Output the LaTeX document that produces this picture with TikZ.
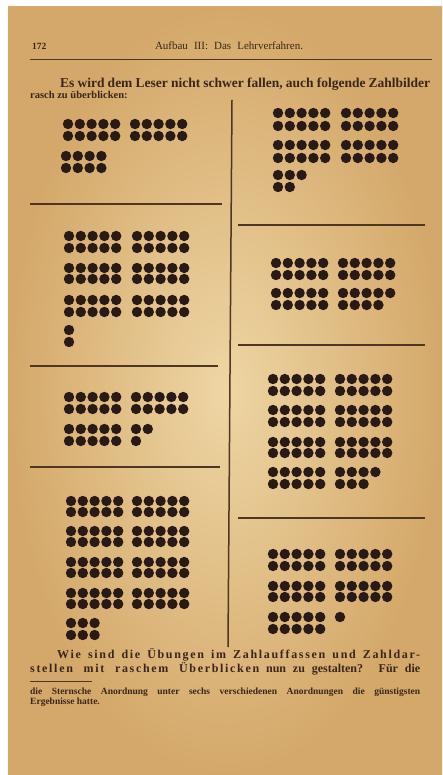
\documentclass[tikz,border=0pt]{standalone}
\usepackage{fontspec}
\setmainfont{Liberation Serif}
\setsansfont{Liberation Sans}
\definecolor{pagelight}{RGB}{238,214,164}
\definecolor{pagedark}{RGB}{212,168,106}
\definecolor{ink}{RGB}{42,26,22}
\definecolor{rulec}{RGB}{78,54,34}
\definecolor{textc}{RGB}{58,38,24}
\newcommand\dotrow[3]{\foreach \i in {1,...,#3} \fill[ink] ({#1+(\i-1)*11.8},#2) circle (5.2);}
\newcommand\dotpair[4]{\dotrow{#1}{#2}{#4}\dotrow{#1}{#3}{#4}}
\begin{document}
\begin{tikzpicture}[x=1pt,y=-1pt,
  sep/.style={draw=rulec,line width=1.5pt},
  txt/.style={anchor=base west,inner sep=0pt,text=textc,font=\bfseries\fontsize{13.5}{15}\selectfont}]
\useasboundingbox (0,0) rectangle (442,775);
\fill[white] (0,0) rectangle (442,775);
\shade[inner color=pagelight,outer color=pagedark] (8,7) rectangle (442,775);
% header
\node[txt,font=\bfseries\fontsize{9.5}{10}\selectfont] (pg) at (32,50) {172};
\node[txt,font=\fontsize{11}{12}\selectfont,anchor=base] (hd) at (229,50) {\makebox[148pt][s]{Aufbau III: Das Lehrverfahren.}};
\draw[draw=rulec,line width=1pt] (30,60) -- (432,60);
% intro text
\node[txt] (l1) at (60,88) {\makebox[370pt][s]{Es wird dem Leser nicht schwer fallen, auch folgende Zahlbilder}};
\node[txt,font=\bfseries\fontsize{10.5}{12}\selectfont] (l2) at (30,99) {rasch zu überblicken:};
% separators
\draw[sep] (232,100) -- (228,647);
\draw[sep] (30,204) -- (222,204);
\draw[sep] (238,225) -- (425,225);
\draw[sep] (30,366) -- (218,366);
\draw[sep] (238,345) -- (425,345);
\draw[sep] (30,467) -- (220,467);
\draw[sep] (238,518) -- (425,518);
% P1
\dotpair{68}{124}{136}{5}\dotpair{135}{124}{136}{5}
\dotpair{66}{156}{168}{4}
% P2
\dotpair{278}{113}{126}{5}\dotpair{346}{113}{126}{5}
\dotpair{278}{145}{158}{5}\dotpair{346}{145}{158}{5}
\dotrow{278}{175}{3}\dotrow{278}{187}{2}
% P3
\dotpair{69}{236}{248}{5}\dotpair{137}{236}{248}{5}
\dotpair{69}{268}{279}{5}\dotpair{137}{268}{279}{5}
\dotpair{69}{300}{312}{5}\dotpair{137}{300}{312}{5}
\dotpair{69}{330}{342}{1}
% P4
\dotpair{276}{263}{275}{5}\dotpair{343}{263}{275}{5}
\dotpair{276}{293}{305}{5}\dotrow{343}{293}{5}\dotrow{343}{305}{4}
% P5
\dotpair{69}{397}{409}{5}\dotpair{136}{397}{409}{5}
\dotpair{69}{429}{441}{5}\dotrow{136}{429}{2}\dotrow{136}{441}{1}
% P6
\dotpair{273}{379}{391}{5}\dotpair{340}{379}{391}{5}
\dotpair{273}{410}{422}{5}\dotpair{340}{410}{422}{5}
\dotpair{273}{442}{453}{5}\dotpair{340}{442}{453}{5}
\dotpair{273}{472}{484}{5}\dotrow{340}{472}{4}\dotrow{340}{484}{3}
% P7
\dotpair{71}{501}{512}{5}\dotpair{137}{501}{512}{5}
\dotpair{71}{531}{542}{5}\dotpair{137}{531}{542}{5}
\dotpair{71}{562}{573}{5}\dotpair{137}{562}{573}{5}
\dotpair{71}{593}{604}{5}\dotpair{137}{593}{604}{5}
\dotpair{71}{623}{635}{3}
% P8
\dotpair{273}{554}{566}{5}\dotpair{340}{554}{566}{5}
\dotpair{273}{586}{597}{5}\dotpair{340}{586}{597}{5}
\dotpair{273}{617}{629}{5}\dotrow{340}{617}{1}
% closing text
\node[txt,font=\bfseries\fontsize{12}{14}\selectfont] (b1) at (57,658) {\makebox[363pt][s]{\addfontfeature{LetterSpace=14}Wie sind die Übungen im Zahlauffassen und Zahldar-}};
\node[txt,font=\bfseries\fontsize{12}{14}\selectfont] (b2) at (30,672) {\makebox[390pt][s]{{\addfontfeature{LetterSpace=14}stellen mit raschem Überblicken} nun zu gestalten? Für die}};
\draw[draw=rulec,line width=0.8pt] (30,681) -- (92,681);
\node[txt,font=\bfseries\fontsize{9.5}{10}\selectfont] (f1) at (30,694) {\makebox[390pt][s]{die Sternsche Anordnung unter sechs verschiedenen Anordnungen die günstigsten}};
\node[txt,font=\bfseries\fontsize{9.5}{10}\selectfont] (f2) at (30,704) {Ergebnisse hatte.};
\end{tikzpicture}
\end{document}
